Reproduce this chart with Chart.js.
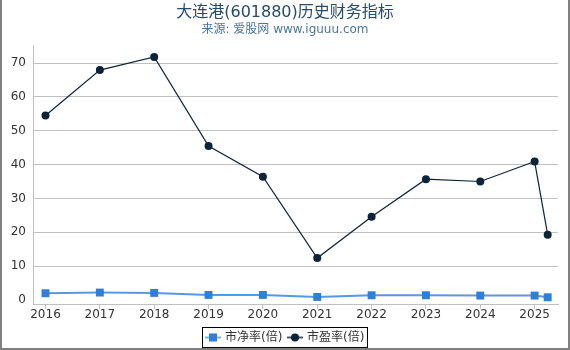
<!DOCTYPE html>
<html><head><meta charset="utf-8">
<script src="https://cdn.jsdelivr.net/npm/chart.js@4/dist/chart.umd.min.js"></script>
<style>
html,body{margin:0;padding:0;background:#fff;overflow:hidden;}
#wrap{position:relative;width:570px;height:350px;}
#frame{position:absolute;left:0;top:0;width:566px;height:348px;border-left:2px solid #808080;border-right:2px solid #808080;border-bottom:2px solid #808080;pointer-events:none;}
canvas{display:block;}
</style></head><body>
<div id="wrap"><canvas id="c" width="570" height="350"></canvas><div id="frame"></div></div>
<script>
// ---- data ----
const titleText = '大连港(601880)历史财务指标';
const subtitleText = '来源: 爱股网 www.iguuu.com';
const seriesNames = ['市净率(倍)', '市盈率(倍)'];
const periods = [2016, 2017, 2018, 2019, 2020, 2021, 2022, 2023, 2024, 2025, 2025.24];
const xTickLabels = [2016, 2017, 2018, 2019, 2020, 2021, 2022, 2023, 2024, 2025];
const yTickValues = [0, 10, 20, 30, 40, 50, 60, 70];
const pbValues = [2.0, 2.2, 2.1, 1.5, 1.5, 0.9, 1.4, 1.4, 1.3, 1.3, 0.8];
const peValues = [54.5, 67.9, 71.8, 45.5, 36.4, 12.4, 24.6, 35.7, 35.0, 40.9, 19.3];

const FONT = '"DejaVu Sans", "Noto Sans CJK SC", sans-serif';
const PB_COLOR = '#2f7ed8';
const PE_COLOR = '#0d233a';

const toPoints = vals => vals.map((v, i) => ({x: periods[i], y: v}));

const decor = {
  id: 'decor',
  afterDraw(chart) {
    const ctx = chart.ctx;
    ctx.save();
    ctx.textAlign = 'center';
    ctx.textBaseline = 'middle';
    ctx.fillStyle = '#274b6d';
    ctx.font = '16px ' + FONT;
    ctx.fillText(titleText, 285, 13);
    ctx.fillStyle = '#4d759e';
    ctx.font = '12px ' + FONT;
    ctx.fillText(subtitleText, 285, 30);

    // legend
    ctx.strokeStyle = '#000';
    ctx.lineWidth = 1;
    ctx.strokeRect(202.5, 327.5, 165, 20);
    const ly = 337.5;
    ctx.textAlign = 'left';
    ctx.font = '12px ' + FONT;
    ctx.strokeStyle = '#7fb2ea';
    ctx.lineWidth = 2;
    ctx.beginPath(); ctx.moveTo(205, ly); ctx.lineTo(221, ly); ctx.stroke();
    ctx.fillStyle = PB_COLOR;
    ctx.fillRect(209, ly - 4, 8, 8);
    ctx.fillStyle = '#333';
    ctx.fillText(seriesNames[0], 225, ly);
    ctx.strokeStyle = '#4a5868';
    ctx.lineWidth = 2;
    ctx.beginPath(); ctx.moveTo(287, ly); ctx.lineTo(303, ly); ctx.stroke();
    ctx.fillStyle = PE_COLOR;
    ctx.beginPath(); ctx.arc(295, ly, 4, 0, Math.PI * 2); ctx.fill();
    ctx.fillStyle = '#333';
    ctx.fillText(seriesNames[1], 307, ly);
    ctx.restore();
  }
};

new Chart(document.getElementById('c'), {
  type: 'line',
  data: {
    datasets: [
      {
        label: seriesNames[0],
        data: toPoints(pbValues),
        borderColor: 'rgba(47,126,216,0.8)',
        backgroundColor: PB_COLOR,
        borderWidth: 2,
        pointStyle: 'rect',
        pointRadius: 5.6,
        pointBorderWidth: 0,
        pointBackgroundColor: PB_COLOR,
        tension: 0
      },
      {
        label: seriesNames[1],
        data: toPoints(peValues),
        borderColor: PE_COLOR,
        backgroundColor: PE_COLOR,
        borderWidth: 1.2,
        pointStyle: 'circle',
        pointRadius: 4,
        pointBorderWidth: 0,
        pointBackgroundColor: PE_COLOR,
        tension: 0
      }
    ]
  },
  options: {
    responsive: false,
    animation: false,
    layout: {padding: {top: 45, right: 12, bottom: 26, left: 0}},
    plugins: {legend: {display: false}, title: {display: false}, tooltip: {enabled: false}},
    scales: {
      x: {
        type: 'linear',
        min: 2015.77,
        max: 2025.43,
        afterBuildTicks: s => { s.ticks = xTickLabels.map(v => ({value: v})); },
        afterFit: s => { s.height = 20; },
        grid: {display: true, drawOnChartArea: false, drawTicks: true, tickLength: 5, color: '#c0c0c0'},
        border: {display: true, color: '#c0c0c0'},
        ticks: {color: '#333', font: {family: FONT, size: 12}, padding: -1, maxRotation: 0, autoSkip: false, callback: v => String(v)}
      },
      y: {
        type: 'linear',
        min: -1.18,
        max: 75.32,
        afterBuildTicks: s => { s.ticks = yTickValues.map(v => ({value: v})); },
        afterFit: s => { s.width = 33; },
        grid: {color: ctx => (ctx.tick && ctx.tick.value === 0) ? 'rgba(0,0,0,0)' : '#c0c0c0', drawTicks: false},
        border: {display: true, color: '#c0c0c0'},
        ticks: {color: '#333', font: {family: FONT, size: 12}, padding: 7}
      }
    }
  },
  plugins: [decor]
});
</script>
</body></html>
